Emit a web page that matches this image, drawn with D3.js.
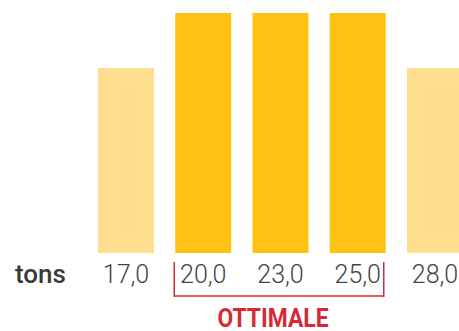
<!DOCTYPE html>
<html>
<head>
<meta charset="utf-8">
<script src="https://cdn.jsdelivr.net/npm/d3@7"></script>
<style>
  html, body { margin: 0; padding: 0; background: #fff; }
  svg { display: block; }
</style>
</head>
<body>
<div id="chart"></div>
<script>
const categories = ['17,0', '20,0', '23,0', '25,0', '28,0']
const values = [77, 100, 100, 100, 77]
const optimal = [false, true, true, true, false]
const unitLabel = 'tons'
const rangeLabel = 'OTTIMALE'

const width = 459, height = 331

const svg = d3.select('#chart').append('svg')
    .attr('width', width)
    .attr('height', height)

const x = d3.scaleBand()
    .domain(categories)
    .range([98, 463])
    .paddingInner(0.275)
    .paddingOuter(0)

const y = d3.scaleLinear()
    .domain([0, 100])
    .range([253, 13])

svg.append('g').selectAll('rect')
    .data(categories)
    .enter().append('rect')
    .attr('x', d => x(d))
    .attr('y', (d, i) => y(values[i]))
    .attr('width', x.bandwidth())
    .attr('height', (d, i) => y(0) - y(values[i]))
    .attr('fill', (d, i) => optimal[i] ? '#fec312' : '#fedd8f')

// tick labels
svg.append('g').selectAll('text')
    .data(categories)
    .enter().append('text')
    .attr('x', d => x(d) + x.bandwidth() / 2)
    .attr('y', 283)
    .attr('text-anchor', 'middle')
    .attr('font-family', 'Roboto')
    .attr('font-weight', 300)
    .attr('font-size', 25)
    .attr('fill', '#444')
    .text(d => d)

svg.append('text')
    .attr('x', 15)
    .attr('y', 283)
    .attr('font-family', 'Roboto')
    .attr('font-weight', 500)
    .attr('font-size', 26)
    .attr('fill', '#3a3a3a')
    .text(unitLabel)

// bracket round the optimal range
const opt = categories.filter((d, i) => optimal[i])
const x0 = x(opt[0]) - 1
const x1 = x(opt[opt.length - 1]) + x.bandwidth() - 2

svg.append('line')
    .attr('x1', x0).attr('x2', x1)
    .attr('y1', 296).attr('y2', 296)
    .attr('stroke', '#e06068')
    .attr('stroke-width', 2)

svg.append('g').selectAll('line')
    .data([x0, x1])
    .enter().append('line')
    .attr('x1', d => d).attr('x2', d => d)
    .attr('y1', 262).attr('y2', 297)
    .attr('stroke', '#d42a35')
    .attr('stroke-width', 1.5)

svg.append('text')
    .attr('x', (x0 + x1) / 2 - 6)
    .attr('y', 327)
    .attr('text-anchor', 'middle')
    .attr('font-family', 'Roboto')
    .attr('font-weight', 700)
    .attr('font-size', 25)
    .attr('textLength', 111)
    .attr('lengthAdjust', 'spacingAndGlyphs')
    .attr('fill', '#d42a35')
    .text(rangeLabel)
</script>
</body>
</html>
